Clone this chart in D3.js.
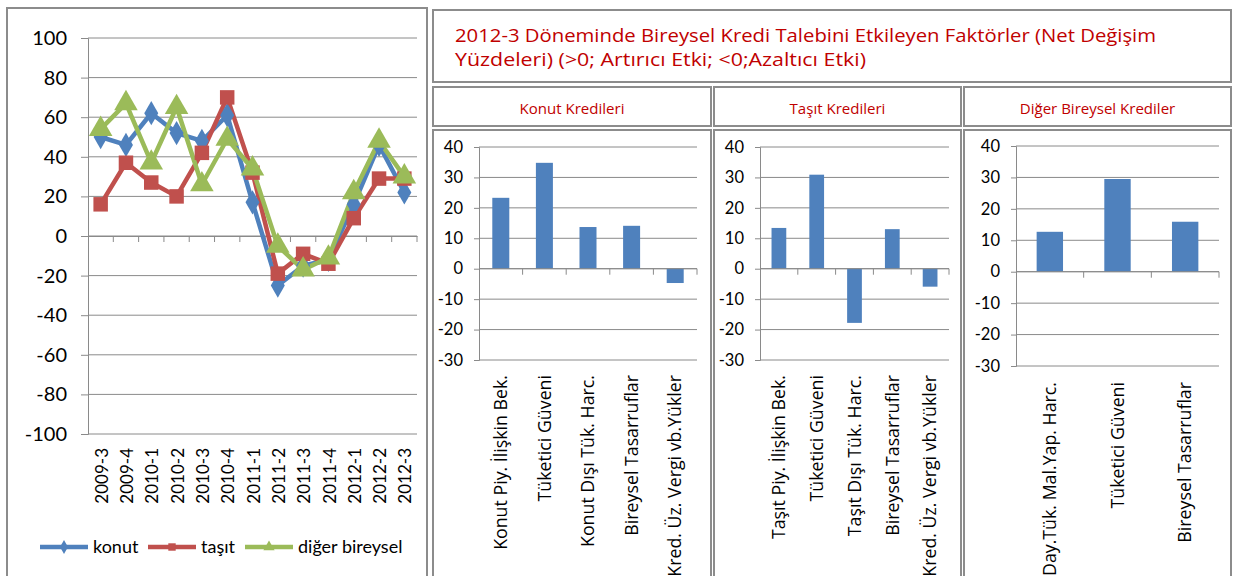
<!DOCTYPE html>
<html><head><meta charset="utf-8">
<script src="https://cdn.jsdelivr.net/npm/d3@7"></script>
<style>body{margin:0;background:#fff}svg{display:block}</style>
</head><body>
<svg id="c" width="1236" height="576"></svg>
<script>
// ---- data ----
const periods = ["2009-3","2009-4","2010-1","2010-2","2010-3","2010-4","2011-1","2011-2","2011-3","2011-4","2012-1","2012-2","2012-3"];
const konut  = [50, 46, 62, 52, 48, 61, 17, -25, -15, -12, 16, 46, 22];
const tasit  = [16, 37, 27, 20, 42, 70, 32, -19, -9, -14, 9, 29, 29];
const diger  = [54, 67, 37, 65, 26, 49, 34, -5, -17, -11, 22, 48, 30];
const lineTicks = [100,80,60,40,20,0,-20,-40,-60,-80,-100];
const seriesNames = ["konut","taşıt","diğer bireysel"];

const konutFactors = ["Konut Piy. İlişkin Bek.","Tüketici Güveni","Konut Dışı Tük. Harc.","Bireysel Tasarruflar","Kred. Üz. Vergi vb.Yükler"];
const konutValues  = [23.3, 34.8, 13.7, 14.1, -4.7];
const tasitFactors = ["Taşıt Piy. İlişkin Bek.","Tüketici Güveni","Taşıt Dışı Tük. Harc.","Bireysel Tasarruflar","Kred. Üz. Vergi vb.Yükler"];
const tasitValues  = [13.4, 30.9, -17.8, 13.0, -5.9];
const digerFactors = ["Day.Tük. Mal.Yap. Harc.","Tüketici Güveni","Bireysel Tasarruflar"];
const digerValues  = [12.7, 29.5, 15.9];
const barTicks = [40,30,20,10,0,-10,-20,-30];

const title1 = "2012-3 Döneminde Bireysel Kredi Talebini Etkileyen Faktörler (Net Değişim";
const title2 = "Yüzdeleri) (>0; Artırıcı Etki; <0;Azaltıcı Etki)";
const panelTitles = ["Konut Kredileri","Taşıt Kredileri","Diğer Bireysel Krediler"];

const colors = ["#4F81BD","#C0504D","#9BBB59"];
const grid = "#8a8a8a";
const border = "#8c8c8c";
const titleRed = "#C00000";
const fmt = d => String(d);

const svg = d3.select("#c");

// measure fonts so texts match the reference lengths
const probe = svg.append("text").attr("font-family","Open Sans").attr("font-size",14).text(konutFactors[0]);
const probeLen = probe.node().getComputedTextLength();
probe.remove();
const labelFont = 14 * 175 / probeLen;
const probe2 = svg.append("text").attr("font-family","Open Sans").attr("font-size",14).text(panelTitles[0]);
const probeLen2 = probe2.node().getComputedTextLength();
probe2.remove();
const subFont = 14 * 105 / probeLen2;

// ---- left line chart ----
svg.append("rect").attr("x",7).attr("y",8).attr("width",420).attr("height",600)
  .attr("fill","#fff").attr("stroke",border).attr("stroke-width",2);

const x = d3.scaleBand().domain(periods).range([88,417]);
const y = d3.scaleLinear().domain([-100,100]).range([434,38]);

const gL = svg.append("g");
gL.selectAll("line.grid").data(lineTicks).join("line")
  .attr("x1",88).attr("x2",417).attr("y1",d=>y(d)).attr("y2",d=>y(d))
  .attr("stroke",grid).attr("stroke-width",1);
const yAx = gL.append("g").attr("transform","translate(88,0)")
  .call(d3.axisLeft(y).tickValues(lineTicks).tickFormat(fmt).tickSize(7).tickPadding(14));
yAx.select(".domain").attr("stroke",grid);
yAx.selectAll(".tick line").attr("stroke",grid);
yAx.selectAll("text").attr("font-family","Lato").attr("font-size",20).attr("fill","#000");
const xAx = gL.append("g").attr("transform",`translate(0,${y(0)})`)
  .call(d3.axisBottom(x).tickSize(0).tickFormat(""));
xAx.select(".domain").attr("stroke",grid);
gL.selectAll("line.xt").data(periods).join("line")
  .attr("x1",d=>x(d)+x.bandwidth()).attr("x2",d=>x(d)+x.bandwidth())
  .attr("y1",y(0)).attr("y2",y(0)+6).attr("stroke",grid);
gL.selectAll("text.xl").data(periods).join("text")
  .attr("transform",d=>`translate(${x(d)+x.bandwidth()/2+1},448) rotate(-90)`)
  .attr("text-anchor","end").attr("dy","0.36em")
  .attr("font-family","Lato").attr("font-size",17).attr("fill","#000").text(d=>d);

const allSeries = [konut,tasit,diger];
const line = d3.line().x((d,i)=>x(periods[i])+x.bandwidth()/2).y(d=>y(d));
allSeries.forEach((s,k)=>{
  gL.append("path").datum(s).attr("d",line).attr("fill","none")
    .attr("stroke",colors[k]).attr("stroke-width",4.5).attr("stroke-linejoin","round");
});
const sym = [d3.symbolDiamond, d3.symbolSquare, d3.symbolTriangle];
const symSize = [170, 210, 240];
allSeries.forEach((s,k)=>{
  gL.selectAll(null).data(s).join("path")
    .attr("transform",(d,i)=>`translate(${x(periods[i])+x.bandwidth()/2},${y(d)})`)
    .attr("d",d3.symbol().type(sym[k]).size(symSize[k])).attr("fill",colors[k]);
});
const legX = [40,148,245];
seriesNames.forEach((n,k)=>{
  const g = svg.append("g").attr("transform",`translate(${legX[k]},547)`);
  g.append("line").attr("x1",0).attr("x2",48).attr("stroke",colors[k]).attr("stroke-width",4.5);
  g.append("path").attr("transform","translate(24,0)")
    .attr("d",d3.symbol().type(sym[k]).size(55)).attr("fill",colors[k]);
  g.append("text").attr("x",53).attr("dy","0.35em").attr("font-family","Lato")
    .attr("font-size",18).attr("fill","#000").text(n);
});

// ---- right side ----
svg.append("rect").attr("x",433).attr("y",10).attr("width",798).attr("height",72)
  .attr("fill","#fff").attr("stroke",border).attr("stroke-width",2);
svg.append("text").attr("x",455).attr("y",42).attr("font-family","Open Sans")
  .attr("font-size",17.5).attr("fill",titleRed).attr("textLength",701).attr("lengthAdjust","spacingAndGlyphs").text(title1);
svg.append("text").attr("x",455).attr("y",66).attr("font-family","Open Sans")
  .attr("font-size",17.5).attr("fill",titleRed).attr("textLength",411).attr("lengthAdjust","spacingAndGlyphs").text(title2);

const boxes = [[433,711],[714,961],[964,1231]];
panelTitles.forEach((t,k)=>{
  const [a,b] = boxes[k];
  svg.append("rect").attr("x",a).attr("y",87).attr("width",b-a).attr("height",39)
    .attr("fill","#fff").attr("stroke",border).attr("stroke-width",2);
  svg.append("text").attr("x",(a+b)/2).attr("y",114)
    .attr("text-anchor","middle").attr("font-family","Open Sans").attr("font-size",subFont)
    .attr("fill",titleRed).text(t);
  svg.append("rect").attr("x",a).attr("y",130).attr("width",b-a).attr("height",480)
    .attr("fill","#fff").attr("stroke",border).attr("stroke-width",2);
});

const panels = [
  {cats:konutFactors, vals:konutValues, x0:479, x1:697, yt:147, yb:360, labelsRight:463, labTop:375},
  {cats:tasitFactors, vals:tasitValues, x0:760, x1:949, yt:147, yb:360, labelsRight:744, labTop:375},
  {cats:digerFactors, vals:digerValues, x0:1016, x1:1219, yt:146, yb:366, labelsRight:1000, labTop:382},
];
panels.forEach(p=>{
  const g = svg.append("g");
  const bx = d3.scaleBand().domain(p.cats).range([p.x0,p.x1]).paddingInner(0.61).paddingOuter(0.305);
  const bxFull = d3.scaleBand().domain(p.cats).range([p.x0,p.x1]);
  const by = d3.scaleLinear().domain([-30,40]).range([p.yb,p.yt]);
  g.selectAll(null).data(barTicks).join("line")
    .attr("x1",p.x0).attr("x2",p.x1).attr("y1",d=>by(d)).attr("y2",d=>by(d))
    .attr("stroke",grid).attr("stroke-width",1);
  const ya = g.append("g").attr("transform",`translate(${p.x0},0)`)
    .call(d3.axisLeft(by).tickValues(barTicks).tickFormat(fmt).tickSize(5).tickPadding(p.x0-p.labelsRight-5));
  ya.select(".domain").attr("stroke",grid);
  ya.selectAll(".tick line").attr("stroke",grid);
  ya.selectAll("text").attr("font-family","Lato").attr("font-size",16.5).attr("fill","#000");
  g.selectAll(null).data(p.vals).join("rect")
    .attr("x",(d,i)=>bx(p.cats[i])).attr("width",bx.bandwidth())
    .attr("y",d=>by(Math.max(0,d))).attr("height",d=>Math.abs(by(d)-by(0)))
    .attr("fill","#4F81BD");
  g.append("line").attr("x1",p.x0).attr("x2",p.x1).attr("y1",by(0)).attr("y2",by(0)).attr("stroke",grid);
  g.selectAll(null).data(p.cats).join("line")
    .attr("x1",d=>bxFull(d)+bxFull.bandwidth()).attr("x2",d=>bxFull(d)+bxFull.bandwidth())
    .attr("y1",by(0)).attr("y2",by(0)+6).attr("stroke",grid);
  g.selectAll(null).data(p.cats).join("text")
    .attr("transform",d=>`translate(${bxFull(d)+bxFull.bandwidth()/2},${p.labTop}) rotate(-90)`)
    .attr("text-anchor","end").attr("dy","0.35em")
    .attr("font-family","Open Sans").attr("font-size",labelFont).attr("fill","#000").text(d=>d);
});
</script>
</body></html>
